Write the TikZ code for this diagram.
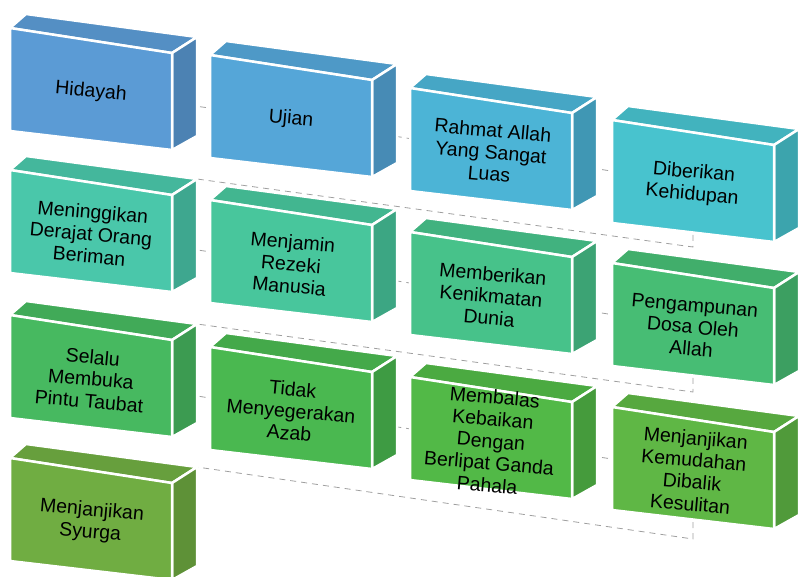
\documentclass[tikz,border=0pt]{standalone}
\usepackage{fontspec}
\setmainfont{Liberation Sans}
\usetikzlibrary{backgrounds}

\definecolor{tone1}{HTML}{5B9BD5}
\definecolor{tone2}{HTML}{55A6D8}
\definecolor{tone3}{HTML}{4CB4D6}
\definecolor{tone4}{HTML}{48C3CE}
\definecolor{tone5}{HTML}{4AC7AA}
\definecolor{tone6}{HTML}{48C69C}
\definecolor{tone7}{HTML}{47C28A}
\definecolor{tone8}{HTML}{47BD74}
\definecolor{tone9}{HTML}{47B960}
\definecolor{tone10}{HTML}{4AB850}
\definecolor{tone11}{HTML}{52B947}
\definecolor{tone12}{HTML}{5FB745}
\definecolor{tone13}{HTML}{70AD42}

\tikzset{
  face/.style={draw=white, line width=2.5pt, line join=round},
  boxtext/.style={align=center, text=black, inner sep=0pt, rotate=-5,
    font=\fontsize{19.5}{22}\selectfont},
  link/.style={draw=gray!75, line width=0.8pt, dash pattern=on 6pt off 5pt},
}

% one slab: name, x, y, colour, text
\newcommand{\slab}[5]{%
  \begin{scope}[shift={(#2,#3)}]
    \filldraw[face, fill=#4!92!black] (0,0) -- (16,-14) -- (187,9) -- (162,25) -- cycle;
    \filldraw[face, fill=#4!84!black] (162,25) -- (187,9) -- (187,108) -- (162,122) -- cycle;
    \filldraw[face, fill=#4] (0,0) -- (162,25) -- (162,122) -- (0,103) -- cycle;
    \coordinate (#1-k) at (187,9);
    \node[boxtext] (#1) at (81,64) {#5};
  \end{scope}}

\begin{document}
\begin{tikzpicture}[x=1pt, y=-1pt]
    \useasboundingbox (0,0) rectangle (799,576);

    \slab{hidayah}{10}{28}{tone1}{Hidayah}
    \slab{ujian}{210}{55}{tone2}{Ujian}
    \slab{rahmat}{410}{88}{tone3}{Rahmat Allah\\Yang Sangat\\Luas}
    \slab{kehidupan}{612}{120}{tone4}{Diberikan\\Kehidupan}

    \slab{derajat}{10}{170}{tone5}{Meninggikan\\Derajat Orang\\Beriman}
    \slab{rezeki}{210}{200}{tone6}{Menjamin\\Rezeki\\Manusia}
    \slab{nikmat}{410}{232}{tone7}{Memberikan\\Kenikmatan\\Dunia}
    \slab{ampunan}{612}{263}{tone8}{Pengampunan\\Dosa Oleh\\Allah}

    \slab{taubat}{10}{315}{tone9}{Selalu\\Membuka\\Pintu Taubat}
    \slab{azab}{210}{347}{tone10}{Tidak\\Menyegerakan\\Azab}
    \slab{pahala}{410}{377}{tone11}{Membalas\\Kebaikan\\Dengan\\Berlipat Ganda\\Pahala}
    \slab{kemudahan}{612}{407}{tone12}{Menjanjikan\\Kemudahan\\Dibalik\\Kesulitan}

    \slab{syurga}{10}{458}{tone13}{Menjanjikan\\Syurga}

    \begin{scope}[on background layer]
    \draw[link] (hidayah.center) -- (ujian.center) -- (rahmat.center) -- (kehidupan.center)
        -- ++(0,63) -- (derajat-k) -- (derajat.center);
    \draw[link] (derajat.center) -- (rezeki.center) -- (nikmat.center) -- (ampunan.center)
        -- ++(0,65) -- (taubat-k) -- (taubat.center);
    \draw[link] (taubat.center) -- (azab.center) -- (pahala.center) -- (kemudahan.center)
        -- ++(0,68) -- (syurga-k) -- (syurga.center);
    \end{scope}
\end{tikzpicture}
\end{document}
